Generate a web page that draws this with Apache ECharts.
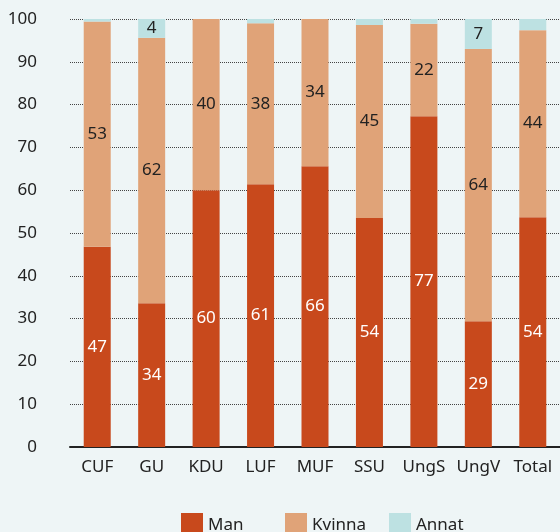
<!DOCTYPE html>
<html>
<head>
<meta charset="UTF-8">
<title></title>
<script src="https://cdn.jsdelivr.net/npm/echarts@6/dist/echarts.min.js"></script>
<style>
  html, body { margin: 0; padding: 0; background: #eef5f6; }
  #chart { width: 560px; height: 532px; }
</style>
</head>
<body>
<div id="chart"></div>
<script>
var categories = ['CUF', 'GU', 'KDU', 'LUF', 'MUF', 'SSU', 'UngS', 'UngV', 'Total'];
var man    = [46.8, 33.6, 60.0, 61.4, 65.6, 53.5, 77.3, 29.4, 53.7];
var kvinna = [52.6, 62.0, 40.0, 37.6, 34.4, 45.1, 21.6, 63.6, 43.7];
var annat  = [0.9, 4.4, 0, 1.2, 0, 1.4, 1.2, 7.0, 2.6];
var yTicks = [0, 10, 20, 30, 40, 50, 60, 70, 80, 90, 100];
var seriesNames = ['Man', 'Kvinna', 'Annat'];

var chart = echarts.init(document.getElementById('chart'));

function lbl(color, minVal) {
  return {
    show: true,
    position: 'inside',
    color: color,
    fontFamily: 'Noto Sans',
    fontSize: 17,
    formatter: function (p) {
      return p.value >= minVal ? String(Math.round(p.value)) : '';
    }
  };
}

// one legend per item so each gets the same fixed slot width
var legendLeft = [176, 280, 384];
var legends = seriesNames.map(function (n, i) {
  return {
    left: legendLeft[i],
    top: 508,
    itemWidth: 22,
    itemHeight: 24,
    icon: 'rect',
    textStyle: { color: '#222', fontSize: 17, fontFamily: 'Noto Sans' },
    data: [n]
  };
});

var option = {
  backgroundColor: '#eef5f6',
  animation: false,
  textStyle: { fontFamily: 'Noto Sans' },
  grid: { left: 70, right: -5, top: 19, bottom: 85, containLabel: false },
  legend: legends,
  xAxis: {
    type: 'category',
    data: categories,
    axisTick: { show: false },
    axisLine: { lineStyle: { color: '#222', width: 2 } },
    axisLabel: { color: '#222', fontSize: 17, margin: 12, interval: 0 }
  },
  yAxis: {
    type: 'value',
    min: yTicks[0],
    max: yTicks[yTicks.length - 1],
    interval: 10,
    axisLine: { show: false },
    axisTick: { show: false },
    axisLabel: { color: '#222', fontSize: 17, margin: 33 },
    splitLine: { lineStyle: { color: '#444', type: [1, 1], width: 1 } }
  },
  series: [
    { name: 'Man', type: 'bar', stack: 's', barWidth: 27, data: man,
      itemStyle: { color: '#c8491c' }, label: lbl('#fff', 5) },
    { name: 'Kvinna', type: 'bar', stack: 's', data: kvinna,
      itemStyle: { color: '#e0a378' }, label: lbl('#222', 5) },
    { name: 'Annat', type: 'bar', stack: 's', data: annat,
      itemStyle: { color: '#bde1e2' }, label: lbl('#222', 3) }
  ]
};
chart.setOption(option);
window.onresize = chart.resize;
</script>
</body>
</html>
